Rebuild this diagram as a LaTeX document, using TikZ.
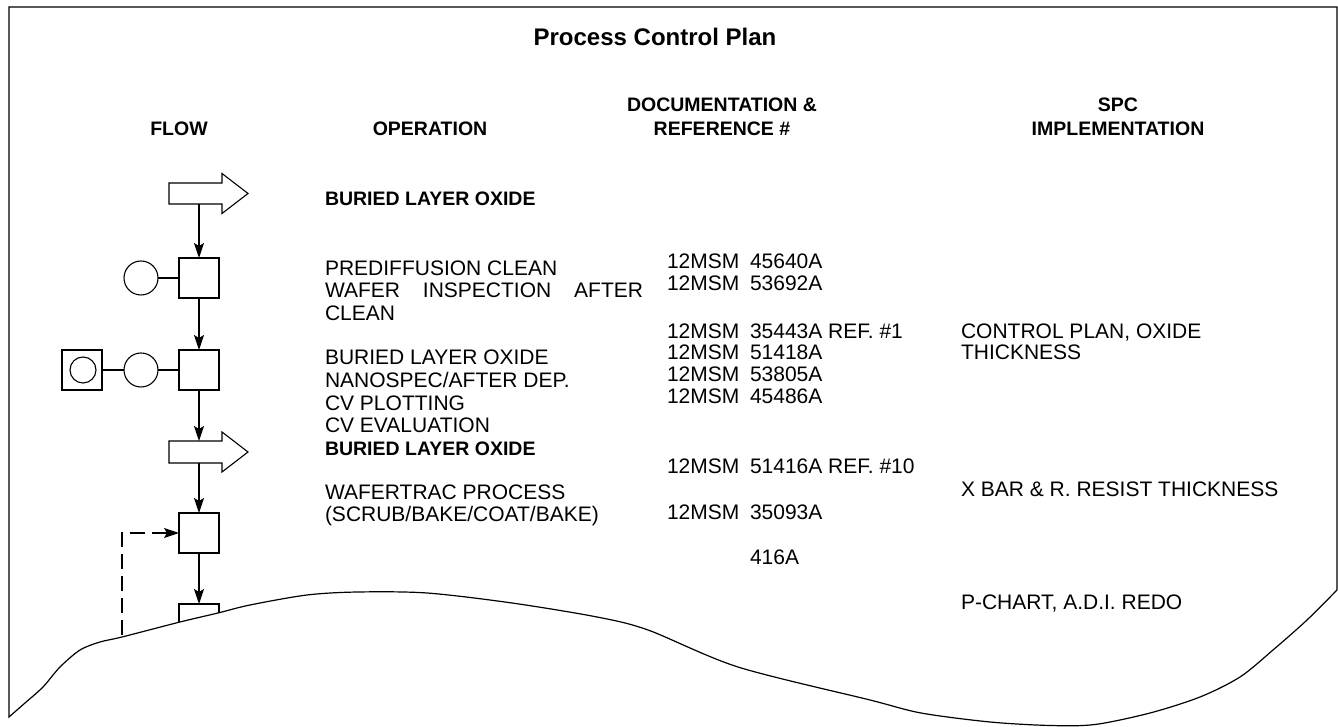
\documentclass[tikz,border=0pt]{standalone}
\usepackage{fontspec}
\setmainfont{Liberation Sans}
\usetikzlibrary{arrows.meta}
\begin{document}
\begin{tikzpicture}[x=1pt,y=1pt,
  every node/.style={inner sep=0pt, outer sep=0pt},
  frame/.style={line width=1.2pt},
  box/.style={draw, line width=1.1pt, minimum size=40pt},
  ring/.style={draw, circle, line width=1.1pt, minimum size=34pt},
  smallring/.style={draw, circle, line width=1.1pt, minimum size=26pt},
  link/.style={line width=1.1pt},
  flow/.style={line width=1.1pt, -{Stealth[length=15pt,width=10pt,inset=3pt]}},
  fb/.style={line width=1.1pt, dash pattern=on 15pt off 7pt, -{Stealth[length=15pt,width=10pt,inset=3pt]}},
  txt/.style={anchor=base west, font=\fontsize{21}{25}\selectfont},
  btxt/.style={anchor=base west, font=\fontsize{19.5}{23}\selectfont\bfseries},
  head/.style={anchor=base, font=\fontsize{19.5}{23}\selectfont\bfseries},
  title/.style={anchor=base, font=\fontsize{24}{28}\selectfont\bfseries},
]
\useasboundingbox (0,0) rectangle (1338,727);

% headings
\node[title] (t) at (655,681) {Process Control Plan};
\node[head] (hflow) at (179,591) {FLOW};
\node[head] (hop) at (430,591) {OPERATION};
\node[head] (hdoc1) at (722,615) {DOCUMENTATION \&};
\node[head] (hdoc2) at (722,591) {REFERENCE \#};
\node[head] (hspc1) at (1118,615) {SPC};
\node[head] (hspc2) at (1118,591) {IMPLEMENTATION};

% operation column
\node[btxt] (o0) at (325,521) {BURIED LAYER OXIDE};
\node[txt] (o1) at (325,451.5) {PREDIFFUSION CLEAN};
\node[txt] (o2) at (325,429.5) {\makebox[318pt][s]{WAFER INSPECTION AFTER}};
\node[txt] (o3) at (325,406.5) {CLEAN};
\node[txt] (o4) at (325,362.5) {BURIED LAYER OXIDE};
\node[txt] (o5) at (325,339.5) {NANOSPEC/AFTER DEP.};
\node[txt] (o6) at (325,316.5) {CV PLOTTING};
\node[txt] (o7) at (325,294.5) {CV EVALUATION};
\node[btxt] (o8) at (325,271) {BURIED LAYER OXIDE};
\node[txt] (o9) at (325,227.5) {WAFERTRAC PROCESS};
\node[txt] (o10) at (325,205.5) {(SCRUB/BAKE/COAT/BAKE)};

% documentation column
\node[txt] (d1) at (667,458.5) {\makebox[83pt][l]{12MSM}45640A};
\node[txt] (d2) at (667,436.5) {\makebox[83pt][l]{12MSM}53692A};
\node[txt] (d3) at (667,388.5) {\makebox[83pt][l]{12MSM}35443A REF. \#1};
\node[txt] (d4) at (667,367.5) {\makebox[83pt][l]{12MSM}51418A};
\node[txt] (d5) at (667,345.5) {\makebox[83pt][l]{12MSM}53805A};
\node[txt] (d6) at (667,323.5) {\makebox[83pt][l]{12MSM}45486A};
\node[txt] (d7) at (667,253.5) {\makebox[83pt][l]{12MSM}51416A REF. \#10};
\node[txt] (d8) at (667,207.5) {\makebox[83pt][l]{12MSM}35093A};
\node[txt] (d9) at (750,162.5) {416A};

% SPC column
\node[txt] (p1) at (961,388.5) {CONTROL PLAN, OXIDE};
\node[txt] (p2) at (961,367.5) {THICKNESS};
\node[txt] (p3) at (961,230.5) {X BAR \& R. RESIST THICKNESS};
\node[txt] (p4) at (961,117.5) {P-CHART, A.D.I. REDO};

% flow chart
\node (a1) [minimum width=53pt, minimum height=21pt] at (195.5,533.5) {};
\draw[link] (a1.south west) -- (a1.north west) -- (a1.north east) -- ++(0,9.5)
  -- ++(26,-20) -- ++(-26,-20) -- (a1.south east) -- cycle;
\node[box] (s1) at (199,449) {};
\node[ring] (c1) at (141,449) {};
\node[box] (s2) at (199,357) {};
\node[ring] (c2) at (141,357) {};
\node[box] (b2) at (82,357) {};
\node[smallring] (ci) at (83,357) {};
\node (a2) [minimum width=53pt, minimum height=22pt] at (195.5,275) {};
\draw[link] (a2.south west) -- (a2.north west) -- (a2.north east) -- ++(0,9)
  -- ++(26,-20) -- ++(-26,-20) -- (a2.south east) -- cycle;
\node[box] (s3) at (199,194) {};

\draw[flow] (a1.south -| s1.north) -- (s1.north);
\draw[flow] (s1) -- (s2);
\draw[flow] (s2.south) -- (a2.north -| s2.south);
\draw[flow] (a2.south -| s3.north) -- (s3.north);
\draw[link] (c1) -- (s1);
\draw[link] (c2) -- (s2);
\draw[link] (b2) -- (c2);

\begin{scope}
  \clip (0,727) -- (0,10) -- plot[smooth] coordinates {(9,10) (25,24) (43,40) (60,60) (80,77) (100,85) (122,90) (180,105) (218,114) (250,122) (307,132) (358,135) (427,134) (512,124) (597,110) (648,97) (738,60) (870,27) (921,14) (990,5) (1050,1.5) (1095,2.5) (1150,14) (1200,30) (1240,50) (1273,77) (1307,107) (1337,137)} -- (1338,727) -- cycle;
  \node[box] (s4) at (199,103) {};
  \coordinate (fbstart) at (122,70);
  \draw[fb] (fbstart) |- (s3.west);
\end{scope}
\draw[flow] (s3) -- (s4);

% frame with torn bottom edge
\draw[frame] (1337,137) -- (1337,720) -- (9,720) -- (9,10)
  -- plot[smooth] coordinates {(9,10) (25,24) (43,40) (60,60) (80,77) (100,85) (122,90) (180,105) (218,114) (250,122) (307,132) (358,135) (427,134) (512,124) (597,110) (648,97) (738,60) (870,27) (921,14) (990,5) (1050,1.5) (1095,2.5) (1150,14) (1200,30) (1240,50) (1273,77) (1307,107) (1337,137)};
\end{tikzpicture}
\end{document}
